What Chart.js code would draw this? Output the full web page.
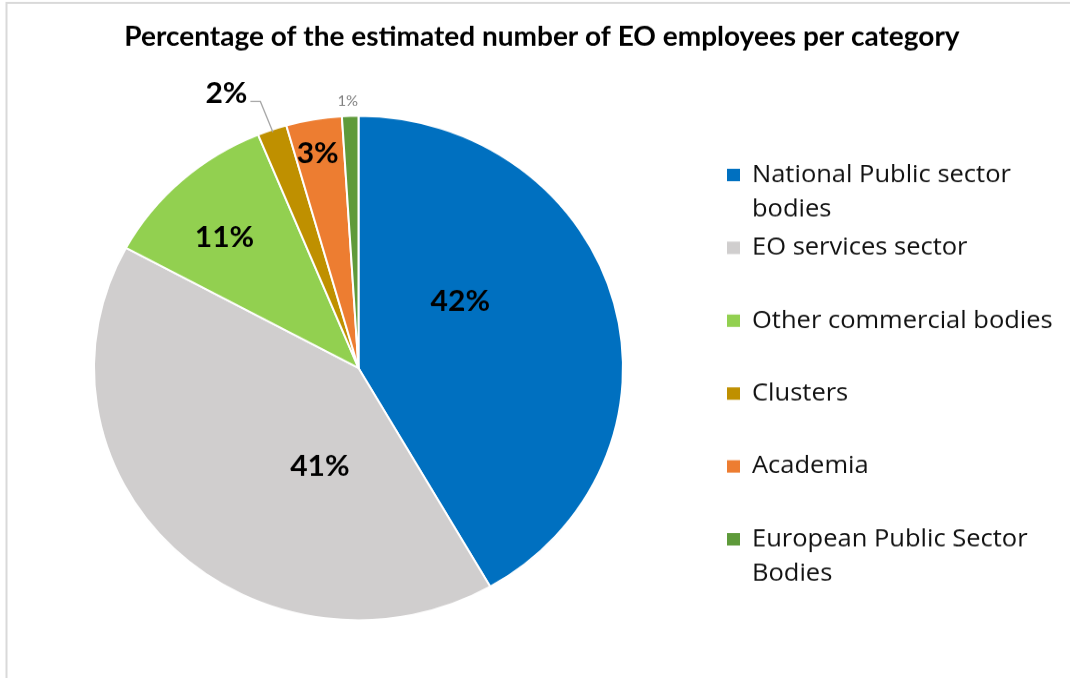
<!DOCTYPE html>
<html>
<head>
<meta charset="utf-8">
<script src="https://cdn.jsdelivr.net/npm/chart.js@4.4.1/dist/chart.umd.min.js"></script>
<style>
  html, body { margin: 0; padding: 0; background: #fff; overflow: hidden; }
  #eoChart { position: absolute; left: 0; top: 0; }
</style>
</head>
<body>
<canvas id="eoChart" width="1070" height="711" style="width:1070px;height:678px"></canvas>
<script>
const chartTitle = 'Percentage of the estimated number of EO employees per category';
const categories = ['National Public sector bodies', 'EO services sector', 'Other commercial bodies', 'Clusters', 'Academia', 'European Public Sector Bodies'];
const shares = [41.7, 41.2, 10.9, 1.8, 3.4, 1.0];
const sliceColors = ['#0070C0', '#D0CECE', '#92D050', '#BF9000', '#ED7D31', '#5E9A3A'];

// where each percentage label sits: fraction of radius, angle shift from slice middle (deg)
const labelPlace = [
    { r: 0.466, da: -19.4, big: true },
    { r: 0.417, da: -23.8, big: true },
    { r: 0.724, da: -2.5, big: true },
    { r: 1.196, da: -5.6, big: true, leader: true },
    { r: 0.862, da: -0.6, big: true },
    { r: 1.059, da: -0.4, big: false }
];

const FONT = 'Lato, "Open Sans", sans-serif';
const LEGEND_FONT = '"Open Sans", Lato, sans-serif';

function wrapText(ctx, text, maxWidth) {
    let words = text.split(' ');
    let lines = [];
    let line = '';
    for (let w of words) {
        let test = line ? line + ' ' + w : w;
        if (ctx.measureText(test).width > maxWidth && line) {
            lines.push(line);
            line = w;
        } else {
            line = test;
        }
    }
    lines.push(line);
    return lines;
}

const framePlugin = {
    id: 'frame',
    beforeDraw(chart) {
        const ctx = chart.ctx;
        ctx.save();
        ctx.fillStyle = '#fff';
        ctx.fillRect(0, 0, chart.width, chart.height);
        ctx.strokeStyle = '#D9D9D9';
        ctx.lineWidth = 2;
        ctx.beginPath();
        ctx.moveTo(6.5, chart.height);
        ctx.lineTo(6.5, 3);
        ctx.lineTo(chart.width, 3);
        ctx.stroke();
        // title
        ctx.fillStyle = '#000';
        ctx.font = 'bold 28px ' + FONT;
        ctx.textAlign = 'center';
        ctx.textBaseline = 'middle';
        ctx.fillText(chartTitle, 542, 39);
        ctx.restore();
    }
};

const labelPlugin = {
    id: 'sliceLabels',
    afterDatasetsDraw(chart) {
        const ctx = chart.ctx;
        const meta = chart.getDatasetMeta(0);
        ctx.save();
        ctx.textAlign = 'center';
        ctx.textBaseline = 'middle';
        meta.data.forEach((arc, i) => {
            const p = arc.getProps(['x', 'y', 'startAngle', 'endAngle', 'outerRadius'], true);
            const place = labelPlace[i];
            const mid = (p.startAngle + p.endAngle) / 2;
            const a = mid + place.da * Math.PI / 180;
            const x = p.x + Math.cos(a) * p.outerRadius * place.r;
            const y = p.y + Math.sin(a) * p.outerRadius * place.r;
            const txt = Math.round(shares[i]) + '%';
            if (place.big) {
                ctx.font = 'bold 30px ' + FONT;
                ctx.fillStyle = '#000';
            } else {
                ctx.font = '15px ' + FONT;
                ctx.fillStyle = '#7F7F7F';
            }
            ctx.fillText(txt, x, y);
            if (place.leader) {
                const w = ctx.measureText(txt).width;
                const sx = x + w / 2 + 3;
                const sy = y + 8;
                const ex = p.x + Math.cos(mid) * p.outerRadius * 0.99;
                const ey = p.y + Math.sin(mid) * p.outerRadius * 0.99;
                ctx.strokeStyle = '#A6A6A6';
                ctx.lineWidth = 1.3;
                ctx.beginPath();
                ctx.moveTo(sx, sy);
                ctx.lineTo(sx + 10, sy);
                ctx.lineTo(ex, ey);
                ctx.stroke();
            }
        });
        ctx.restore();
    }
};

const legendPlugin = {
    id: 'sideLegend',
    afterDraw(chart) {
        const ctx = chart.ctx;
        ctx.save();
        ctx.font = '25.5px ' + LEGEND_FONT;
        ctx.textAlign = 'left';
        ctx.textBaseline = 'middle';
        const startY = 183.5;
        const step = 76.4;
        const lineH = 36.7;
        chart.data.labels.forEach((lab, i) => {
            const y = startY + i * step;
            ctx.fillStyle = sliceColors[i];
            ctx.fillRect(727, y - 6.5, 13, 13);
            ctx.fillStyle = '#111';
            const lines = wrapText(ctx, lab, 320);
            lines.forEach((ln, j) => ctx.fillText(ln, 752, y + j * lineH));
        });
        ctx.restore();
    }
};

const data = {
    labels: categories,
    datasets: [{
        data: shares,
        backgroundColor: sliceColors,
        borderColor: '#fff',
        borderWidth: 2,
        hoverBorderWidth: 2,
        hoverOffset: 0
    }]
};

const config = {
    type: 'pie',
    data: data,
    options: {
        responsive: false,
        animation: false,
        events: [],
        layout: { padding: { left: 93, right: 446, top: 120.4, bottom: 59.6 } },
        plugins: {
            legend: { display: false },
            title: { display: false },
            tooltip: { enabled: false }
        }
    },
    plugins: [framePlugin, labelPlugin, legendPlugin]
};

const myChart = new Chart(document.getElementById('eoChart'), config);
</script>
</body>
</html>
